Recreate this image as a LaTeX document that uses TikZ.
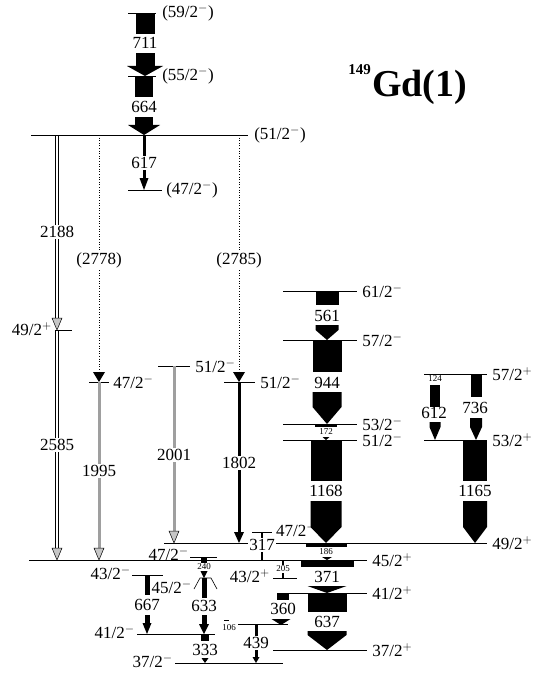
\documentclass[tikz,border=0pt]{standalone}
\usepackage{fontspec}
\setmainfont{Liberation Serif}
\usetikzlibrary{arrows.meta}

% fat gamma pieces: shaft and head (x, width, y0, y1[, tip])
\newcommand{\shaft}[4]{\fill (#1-#2/2,#3) rectangle (#1+#2/2,#4);}
\newcommand{\fhead}[5]{\fill (#1-#2/2,#3) -- (#1+#2/2,#3) -- (#1+#2/2,#4) -- (#1,#5) -- (#1-#2/2,#4) -- cycle;}
\newcommand{\ghead}[2]{\filldraw[fill=gray!45,draw=black,line width=0.5pt] (#1-5,#2-12) -- (#1+5,#2-12) -- (#1,#2) -- cycle;}
% hollow (double) line
\newcommand{\hollowline}[3]{\draw[line width=0.8pt] (#1-1.4,#2)--(#1-1.4,#3) (#1+1.4,#2)--(#1+1.4,#3);}

\begin{document}
\begin{tikzpicture}[x=1pt,y=-1pt,
    every node/.style={font=\fontsize{17}{17}\selectfont,inner sep=1pt},
    lvl/.style={line width=0.6pt},
    sml/.style={font=\fontsize{9}{9}\selectfont,inner sep=0.5pt},
    wb/.style={fill=white},
    gry/.style={draw=gray!75,line width=3pt},
    dotline/.style={dotted,line width=0.6pt}]
    \useasboundingbox (0,0) rectangle (535,674);

    \node[font=\bfseries\fontsize{38}{38}\selectfont,anchor=base west] (gd) at (371,97) {Gd(1)};
    \node[font=\bfseries\fontsize{15}{15}\selectfont,anchor=base east] (mass) at (372,75) {149};

    % top band
    \draw[lvl] (128,13)--(156,13) node[right=5pt] (l59) {(59/2$^-$)};
    \draw[lvl] (128,76)--(156,76) node[right=5pt] (l55) {(55/2$^-$)};
    \draw[lvl] (31,135)--(248,135) node[right=5pt] (l51a) {(51/2$^-$)};
    \draw[lvl] (128,190)--(162,190) node[right=3pt] (l47a) {(47/2$^-$)};
    \shaft{145}{19}{13}{34}
    \node (g711) at (145,43) {711};
    \shaft{145}{19}{53}{66}
    \fhead{145}{36}{66}{66}{76}
    \shaft{144}{18}{76}{97}
    \node (g664) at (144,107) {664};
    \shaft{144}{18}{117}{125}
    \fhead{144}{32}{125}{125}{135}
    \draw[line width=3pt] (144,135)--(144,179);
    \fhead{144}{9}{178}{178}{190}
    \node[wb] (g617) at (144,163) {617};

    % long decays out of (51/2-)
    \hollowline{57}{135}{319}
    \ghead{57}{330}
    \node[wb] (g2188) at (57,232) {2188};
    \draw[lvl] (55,330)--(72,330);
    \node[anchor=east] (l49a) at (53,329) {49/2$^+$};
    \hollowline{57}{330}{549}
    \ghead{57}{560}
    \node[wb] (g2585) at (57,445) {2585};

    \draw[dotline] (99,135)--(99,372);
    \fhead{99}{12}{372}{372}{382}
    \node[wb] (g2778) at (99,260) {(2778)};
    \draw[lvl] (89,382)--(109,382) node[right=3pt] (l47b) {47/2$^-$};
    \draw[gry] (99,382)--(99,548);
    \ghead{99}{560}
    \node[wb] (g1995) at (99,471) {1995};

    \draw[lvl] (158,366)--(190,366) node[right=4pt] (l51b) {51/2$^-$};
    \draw[gry] (174,366)--(174,531);
    \ghead{174}{543}
    \node[wb] (g2001) at (174,455) {2001};

    \draw[dotline] (239,135)--(239,372);
    \fhead{239}{12}{372}{372}{382}
    \node[wb] (g2785) at (239,260) {(2785)};
    \draw[lvl] (224,382)--(255,382) node[right=4pt] (l51c) {51/2$^-$};
    \draw[line width=3pt] (239,382)--(239,534);
    \fhead{239}{10}{532}{532}{543}
    \node[wb] (g1802) at (239,463) {1802};

    % right band levels
    \draw[lvl] (283,291)--(357,291) node[right=4pt] (l61) {61/2$^-$};
    \draw[lvl] (283,340)--(357,340) node[right=4pt] (l57a) {57/2$^-$};
    \draw[lvl] (283,424)--(357,424) node[right=4pt] (l53a) {53/2$^-$};
    \draw[lvl] (283,440)--(357,440) node[right=4pt] (l51d) {51/2$^-$};
    \draw[lvl] (424,374)--(487,374) node[right=4pt] (l57b) {57/2$^+$};
    \draw[lvl] (424,440)--(487,440) node[right=4pt] (l53b) {53/2$^+$};
    \draw[lvl] (164,543)--(487,543) node[right=4pt] (l49b) {49/2$^+$};
    \draw[lvl] (252,532)--(272,532);
    \node[anchor=west] (l47c) at (275,530) {47/2$^-$};
    \draw[lvl] (29,560)--(367,560) node[right=4pt] (l45) {45/2$^+$};
    \draw[line width=2pt] (262,532)--(262,560);
    \node[wb] (g317) at (262,545) {317};

    % low-lying negative parity
    \draw[lvl] (190,557)--(217,557);
    \node[anchor=east] (l47d) at (190,554) {47/2$^-$};
    \draw[lvl] (194,589)--(200,578)--(211,578)--(217,589);
    \node[anchor=east] (l45b) at (193,587) {45/2$^-$};
    \shaft{204}{6}{557}{563}
    \node[sml] (g240) at (204,567) {240};
    \fhead{204}{7}{571}{571}{578}
    \shaft{204}{5}{578}{598}
    \node (g633) at (204,606) {633};
    \shaft{204}{5}{615}{625}
    \fhead{204}{10}{624}{624}{634}

    \draw[lvl] (132,575)--(163,575);
    \node[anchor=east] (l43a) at (132,573) {43/2$^-$};
    \shaft{147}{5}{575}{595}
    \node (g667) at (147,605) {667};
    \shaft{147}{5}{615}{625}
    \fhead{147}{9}{623}{623}{634}

    \draw[lvl] (137,634)--(215,634);
    \node[anchor=east] (l41a) at (136,632) {41/2$^-$};
    \shaft{205}{8}{634}{641}
    \node (g333) at (205,650) {333};
    \fhead{205}{7}{658}{658}{663}
    \draw[lvl] (175,663)--(283,663);
    \node[anchor=east] (l37a) at (174,661) {37/2$^-$};

    \draw[lvl] (224,620)--(229,620);
    \node[sml] (g106) at (229,628) {106};
    \draw[lvl] (238,624)--(288,624);
    \draw[line width=3pt] (256,624)--(256,658);
    \fhead{256}{7}{657}{657}{663}
    \node[wb] (g439) at (256,643) {439};

    % low-lying positive parity
    \draw[lvl] (273,578)--(297,578);
    \node[anchor=east] (l43b) at (271,576) {43/2$^+$};
    \draw[line width=2pt] (283,560)--(283,578);
    \node[sml,wb] (g205) at (283,569) {205};
    \draw[lvl] (277,593)--(367,593) node[right=4pt] (l41b) {41/2$^+$};
    \draw[lvl] (273,650)--(367,650) node[right=4pt] (l37b) {37/2$^+$};
    \shaft{283}{12}{593}{600}
    \node (g360) at (283,609) {360};
    \fhead{281}{19}{619}{619}{625}

    % main cascade
    \shaft{327}{23}{291}{305}
    \node (g561) at (327,316) {561};
    \fhead{327}{23}{325}{330}{340}
    \shaft{327}{29}{340}{372}
    \node (g944) at (327,383) {944};
    \fhead{327}{29}{392}{407}{424}
    \shaft{326}{22}{424}{427}
    \node[sml] (g172) at (326,432) {172};
    \fhead{326}{7}{437}{437}{440}
    \shaft{326}{31}{440}{481}
    \node (g1168) at (326,491) {1168};
    \fhead{326}{31}{501}{527}{543}
    \shaft{326}{41}{543}{547}
    \node[sml] (g186) at (326,552) {186};
    \fhead{327}{10}{557}{557}{560}
    \shaft{327}{53}{560}{567}
    \node (g371) at (327,577) {371};
    \fhead{327}{39}{586}{586}{593}
    \shaft{327}{39}{593}{612}
    \node (g637) at (327,622) {637};
    \fhead{327}{39}{631}{635}{650}

    % side band
    \node[sml] (g124) at (435,379) {124};
    \shaft{435}{10}{385}{407}
    \node (g612) at (434,413) {612};
    \fhead{435}{11}{422}{427}{440}
    \shaft{476}{11}{374}{397}
    \node (g736) at (475,408) {736};
    \fhead{476}{12}{418}{427}{440}
    \shaft{475}{24}{440}{481}
    \node (g1165) at (475,491) {1165};
    \fhead{475}{24}{501}{527}{543}
\end{tikzpicture}
\end{document}
